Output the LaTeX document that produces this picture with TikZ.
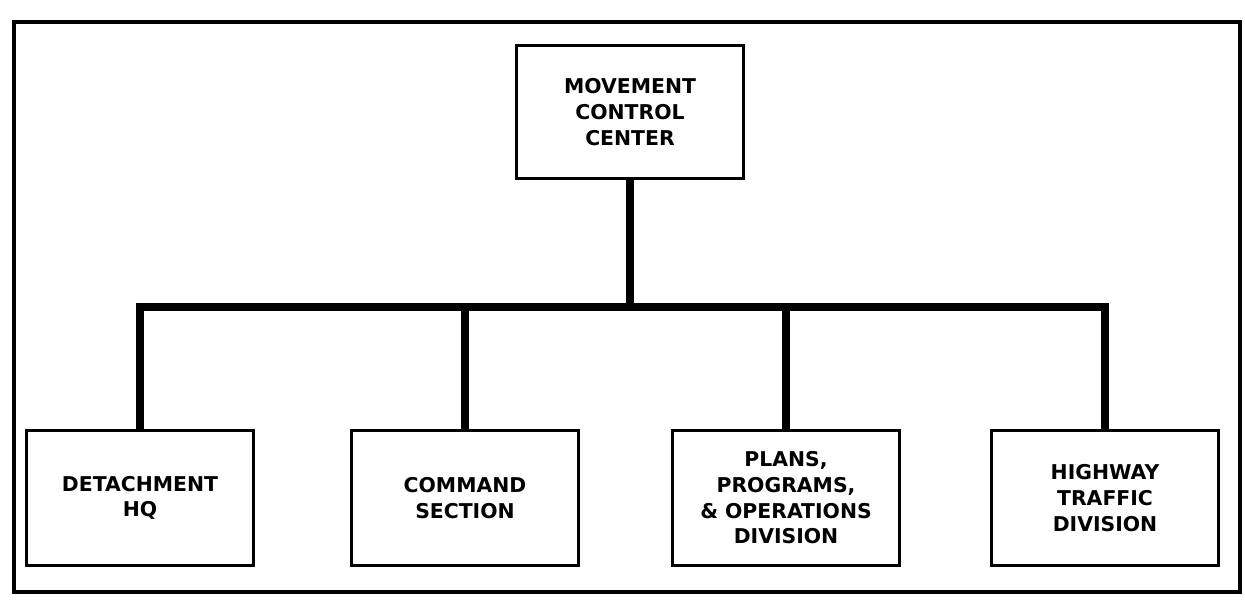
\documentclass[tikz,border=0pt]{standalone}
\usepackage{fontspec}
\setsansfont{DejaVu Sans}
\begin{document}
\begin{tikzpicture}[x=0.02cm,y=-0.02cm,line join=miter]
	\tikzset{unit/.style={draw,line width=1.7pt,minimum width=4.56cm,minimum height=2.7cm,align=center,font=\sffamily\bfseries\fontsize{11.6}{14.6}\selectfont,inner sep=0pt},
		link/.style={line width=4pt}}
	\useasboundingbox (0,0) rectangle (1245,607);
	\draw[line width=1.8pt] (14,22) rectangle (1240,592);
	% top box
	\node[unit,minimum height=2.68cm] (mcc) at (630,112) {MOVEMENT\\CONTROL\\CENTER};
	% bottom row
	\node[unit] (det) at (140,498) {DETACHMENT\\HQ};
	\node[unit] (cmd) at (465,498) {COMMAND\\SECTION};
	\node[unit] (ppo) at (786,498) {PLANS,\\PROGRAMS,\\\& OPERATIONS\\DIVISION};
	\node[unit] (hwy) at (1105,498) {HIGHWAY\\TRAFFIC\\DIVISION};
	\coordinate (bus) at (630,307);
	% connectors
	\draw[link] (mcc.south) -- (bus);
	\draw[link] (det.north) -- (det.north |- bus) -- (hwy.north |- bus) -- (hwy.north);
	\foreach \n in {cmd,ppo}
	\draw[link] (\n.north |- bus) -- (\n.north);
\end{tikzpicture}
\end{document}
